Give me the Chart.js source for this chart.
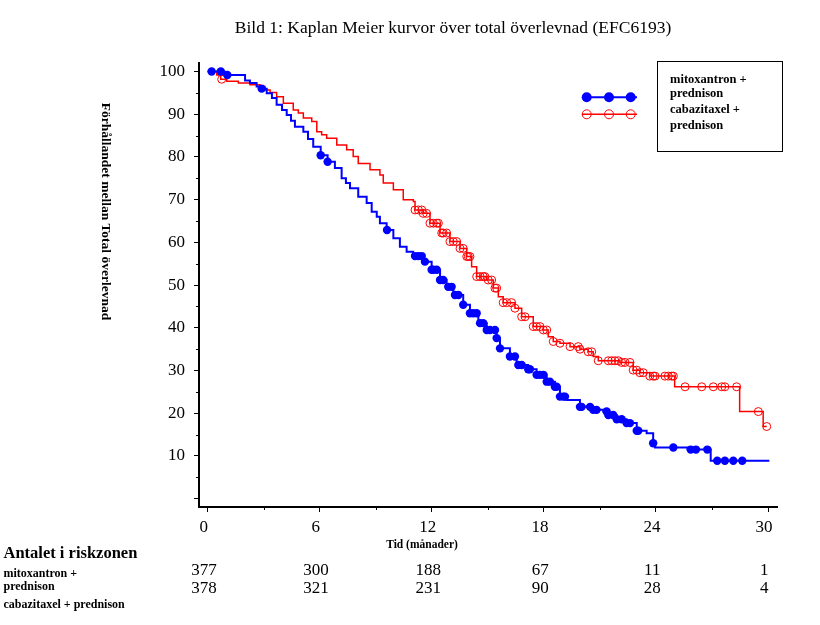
<!DOCTYPE html>
<html>
<head>
<meta charset="utf-8">
<script src="https://cdn.jsdelivr.net/npm/chart.js@4.4.0/dist/chart.umd.min.js"></script>
<style>
html,body{margin:0;padding:0;background:#fff;}
#wrap{width:820px;height:625px;position:relative;}
</style>
</head>
<body>
<div id="wrap"><canvas id="c" width="820" height="625"></canvas></div>
<script>
// ---------- texts ----------
const titleText = 'Bild 1: Kaplan Meier kurvor över total överlevnad (EFC6193)';
const yTitleText = 'Förhållandet mellan Total överlevnad';
const xTitleText = 'Tid (månader)';
const legendLines = ['mitoxantron +', 'prednison', 'cabazitaxel +', 'prednison'];
const riskTitle = 'Antalet i riskzonen';
const riskRowLabels = ['mitoxantron +', 'prednison', 'cabazitaxel + prednison'];

// ---------- ticks ----------
const xTicks = [0, 6, 12, 18, 24, 30];
const xMinorTicks = [3, 9, 15, 21, 27];
const yTicks = [0, 10, 20, 30, 40, 50, 60, 70, 80, 90, 100];
const yMinorTicks = [5, 15, 25, 35, 45, 55, 65, 75, 85, 95];

// ---------- numbers at risk ----------
const riskMito = [377, 300, 188, 67, 11, 1];
const riskCaba = [378, 321, 231, 90, 28, 4];

// ---------- mitoxantron + prednison (KM steps) ----------
const mitoTime = [0, 0.9, 2.0, 2.26, 2.62, 2.89, 3.16, 3.44, 3.69, 3.98, 4.23, 4.46, 4.67, 5.12, 5.37, 5.65,
  6.05, 6.42, 6.81, 7.17, 7.40, 7.62, 8.06, 8.51, 8.78, 9.05, 9.22, 9.58, 9.94, 10.29, 10.65, 11.0, 11.1,
  11.54, 11.99, 12.44, 12.79, 13.15, 13.68, 14.04, 14.49, 14.94, 15.47, 15.65, 16.18, 16.54, 17.16, 17.61,
  18.15, 18.59, 18.86, 19.22, 19.93, 20.56, 21.18, 21.45, 21.9, 22.43, 22.97, 23.5, 23.85, 23.95, 25.7,
  26.93, 30.07];
const mitoSurv = [100, 99.2, 97.9, 97.3, 96.5, 96.0, 94.9, 93.8, 92.2, 91.0, 89.8, 88.5, 87.1, 85.9, 84.2, 82.4,
  80.4, 78.9, 77.4, 75.0, 73.9, 72.7, 70.7, 69.2, 67.2, 66.0, 64.5, 62.9, 61.0, 59.0, 57.8, 57.1, 56.8,
  55.5, 53.6, 51.2, 49.6, 47.7, 45.4, 43.4, 41.1, 39.5, 37.6, 35.2, 33.3, 31.3, 30.3, 29.0,
  27.4, 26.2, 23.9, 23.1, 21.5, 20.8, 20.4, 19.6, 18.6, 17.7, 15.9, 15.3, 13.0, 12.0, 11.5,
  8.9, 8.9];
const mitoCensor = [0.21, 0.70, 1.05, 2.89, 6.05, 6.42, 9.6, 11.1, 11.28, 11.46, 11.63, 11.99, 12.08, 12.26,
  12.44, 12.61, 12.88, 13.06, 13.24, 13.42, 13.68, 14.04, 14.22, 14.40, 14.58, 14.75, 14.94, 15.11, 15.38,
  15.47, 15.65, 16.18, 16.45, 16.63, 16.81, 17.16, 17.25, 17.61, 17.79, 17.97, 18.15, 18.32, 18.59, 18.68,
  18.86, 19.04, 19.13, 19.93, 20.02, 20.47, 20.64, 20.82, 21.36, 21.45, 21.71, 21.90, 22.16, 22.43, 22.61,
  22.97, 23.05, 23.85, 24.93, 25.86, 26.14, 26.75, 27.28, 27.69, 28.14, 28.62];

// ---------- cabazitaxel + prednison (KM steps) ----------
const cabaTime = [0, 0.48, 0.7, 1.02, 1.64, 2.26, 2.8, 3.07, 3.34, 3.69, 4.05, 4.58, 4.85, 5.12, 5.57, 5.84,
  6.1, 6.37, 6.91, 7.44, 7.79, 8.06, 8.69, 9.22, 9.4, 9.94, 10.47, 11.01, 11.1, 11.54, 11.9, 12.44, 12.97,
  13.51, 13.87, 14.13, 14.4, 14.94, 15.29, 15.56, 15.82, 16.45, 16.81, 17.43, 17.97, 18.23, 18.5, 18.86,
  19.4, 19.93, 20.37, 20.64, 20.91, 22.07, 22.78, 23.14, 23.67, 25.0, 28.48, 29.74, 29.93];
const cabaSurv = [100, 99.2, 98.2, 97.7, 97.3, 96.9, 96.5, 95.7, 95.1, 94.1, 92.6, 91.0, 90.3, 89.1, 88.3, 85.9,
  85.2, 84.4, 82.8, 81.7, 80.1, 78.5, 77.0, 75.8, 73.9, 72.3, 70.0, 69.6, 67.6, 66.8, 64.5, 62.2, 60.2,
  58.6, 56.7, 54.3, 52.0, 51.2, 49.3, 47.3, 45.9, 44.6, 42.6, 40.3, 39.5, 37.9, 36.8, 36.4,
  35.6, 35.0, 34.4, 33.3, 32.3, 31.9, 30.1, 29.5, 28.7, 26.2, 20.4, 16.9, 16.9];
const cabaCensor = [0.75, 11.10, 11.28, 11.46, 11.54, 11.72, 11.90, 12.08, 12.26, 12.35, 12.53, 12.61, 12.79,
  12.97, 13.15, 13.33, 13.51, 13.68, 13.87, 13.95, 14.04, 14.40, 14.58, 14.75, 14.84, 15.02, 15.20, 15.38,
  15.47, 15.82, 16.01, 16.27, 16.45, 16.81, 16.99, 17.43, 17.61, 17.79, 17.97, 18.15, 18.50, 18.86, 19.40,
  19.84, 19.93, 20.37, 20.56, 20.91, 21.45, 21.63, 21.80, 21.98, 22.16, 22.34, 22.61, 22.78, 22.97, 23.14,
  23.32, 23.67, 23.85, 23.95, 24.48, 24.66, 24.84, 24.93, 25.56, 26.45, 27.07, 27.52, 27.69, 28.32, 29.48, 29.93];

// ---------- helpers ----------
const SERIF = '"Liberation Serif", "Times New Roman", serif';
const BLUE = '#0000ff';
const RED = '#ff0000';

function stepAt(times, surv, t) {
  let s = surv[0];
  for (let i = 0; i < times.length; i++) {
    if (times[i] <= t) s = surv[i]; else break;
  }
  return s;
}
function toPoints(times, surv) {
  return times.map((t, i) => ({ x: t, y: surv[i] }));
}
function censorPoints(cens, times, surv) {
  return cens.map(t => ({ x: t, y: stepAt(times, surv, t) }));
}

// ---------- extra drawing ----------
const decorPlugin = {
  id: 'decor',
  afterDraw(chart) {
    const ctx = chart.ctx;
    const xs = chart.scales.x, ys = chart.scales.y;
    const area = chart.chartArea;
    ctx.save();

    // minor ticks
    ctx.strokeStyle = '#000';
    ctx.lineWidth = 1;
    ctx.beginPath();
    xMinorTicks.forEach(v => {
      const px = Math.round(xs.getPixelForValue(v)) + 0.5;
      ctx.moveTo(px, area.bottom);
      ctx.lineTo(px, area.bottom + 3);
    });
    yMinorTicks.forEach(v => {
      const py = Math.round(ys.getPixelForValue(v)) + 0.5;
      ctx.moveTo(area.left, py);
      ctx.lineTo(area.left - 3, py);
    });
    ctx.stroke();

    ctx.fillStyle = '#000';
    // title
    ctx.font = '17.5px ' + SERIF;
    ctx.textAlign = 'center';
    ctx.textBaseline = 'alphabetic';
    ctx.fillText(titleText, 453, 33);

    // y title (rotated, reading downward)
    ctx.save();
    ctx.translate(105, 211.5);
    ctx.rotate(Math.PI / 2);
    ctx.font = 'bold 13.5px ' + SERIF;
    ctx.textAlign = 'center';
    ctx.textBaseline = 'middle';
    ctx.fillText(yTitleText, 0, 0);
    ctx.restore();

    // x title
    ctx.font = 'bold 11.5px ' + SERIF;
    ctx.textAlign = 'center';
    ctx.fillText(xTitleText, 422, 548);

    // legend box
    ctx.lineWidth = 1;
    ctx.strokeStyle = '#000';
    ctx.strokeRect(657.5, 61.5, 125, 90);
    ctx.font = 'bold 12.5px ' + SERIF;
    ctx.textAlign = 'left';
    const lb = [82.5, 97, 113, 129];
    legendLines.forEach((s, i) => ctx.fillText(s, 670, lb[i]));

    // legend samples
    const ds = chart.data.datasets;
    const sx = [586.7, 609, 630.7];
    // blue
    ctx.strokeStyle = ds[0].borderColor;
    ctx.lineWidth = ds[0].borderWidth;
    ctx.beginPath(); ctx.moveTo(582, 97.3); ctx.lineTo(637, 97.3); ctx.stroke();
    ctx.fillStyle = ds[1].backgroundColor;
    sx.forEach(x => { ctx.beginPath(); ctx.arc(x, 97.3, 5, 0, Math.PI * 2); ctx.fill(); });
    // red
    ctx.strokeStyle = ds[2].borderColor;
    ctx.lineWidth = ds[2].borderWidth;
    ctx.beginPath(); ctx.moveTo(582, 114.3); ctx.lineTo(637, 114.3); ctx.stroke();
    ctx.lineWidth = 1;
    ctx.strokeStyle = ds[3].borderColor;
    sx.forEach(x => { ctx.beginPath(); ctx.arc(x, 114.3, 4.5, 0, Math.PI * 2); ctx.stroke(); });

    // risk table
    ctx.fillStyle = '#000';
    ctx.textAlign = 'left';
    ctx.font = 'bold 16.5px ' + SERIF;
    ctx.fillText(riskTitle, 3.5, 558);
    ctx.font = 'bold 12px ' + SERIF;
    const rb = [576.7, 589.5, 607.5];
    riskRowLabels.forEach((s, i) => ctx.fillText(s, 3.5, rb[i]));
    ctx.font = '17px ' + SERIF;
    ctx.textAlign = 'center';
    xTicks.forEach((t, i) => {
      const px = xs.getPixelForValue(t) - 3.7;
      ctx.fillText(String(riskMito[i]), px, 575);
      ctx.fillText(String(riskCaba[i]), px, 592.5);
    });

    ctx.restore();
  }
};

const tickFont = { family: SERIF, size: 17 };

new Chart(document.getElementById('c'), {
  type: 'scatter',
  data: {
    datasets: [
      {
        label: 'mitoxantron + prednison',
        data: toPoints(mitoTime, mitoSurv),
        showLine: true, stepped: true,
        borderColor: BLUE, borderWidth: 2,
        pointRadius: 0, clip: false, order: 2
      },
      {
        label: 'mitoxantron + prednison (censurerad)',
        data: censorPoints(mitoCensor, mitoTime, mitoSurv),
        showLine: false, pointStyle: 'circle', pointRadius: 4.2,
        backgroundColor: BLUE, borderColor: BLUE, borderWidth: 0,
        clip: false, order: 1
      },
      {
        label: 'cabazitaxel + prednison',
        data: toPoints(cabaTime, cabaSurv),
        showLine: true, stepped: true,
        borderColor: RED, borderWidth: 1.5,
        pointRadius: 0, clip: false, order: 4
      },
      {
        label: 'cabazitaxel + prednison (censurerad)',
        data: censorPoints(cabaCensor, cabaTime, cabaSurv),
        showLine: false, pointStyle: 'circle', pointRadius: 4,
        backgroundColor: 'rgba(0,0,0,0)', borderColor: RED, borderWidth: 1,
        clip: false, order: 3
      }
    ]
  },
  options: {
    responsive: false,
    animation: false,
    devicePixelRatio: 1,
    layout: { padding: { left: 0, top: 63, right: 43, bottom: 88 } },
    plugins: {
      legend: { display: false },
      title: { display: false },
      tooltip: { enabled: false }
    },
    scales: {
      x: {
        type: 'linear',
        min: -0.466, max: 30.48,
        afterBuildTicks: s => { s.ticks = xTicks.map(v => ({ value: v })); },
        afterFit: s => { s.height = 30; },
        grid: { display: true, drawOnChartArea: false, drawTicks: true, tickLength: 5, tickColor: '#000', tickWidth: 1 },
        border: { display: true, color: '#000', width: 2 },
        ticks: { font: tickFont, color: '#000', padding: 5, labelOffset: -4, maxRotation: 0, autoSkip: false }
      },
      y: {
        type: 'linear',
        min: -1.94, max: 102.0,
        afterBuildTicks: s => { s.ticks = yTicks.map(v => ({ value: v })); },
        afterFit: s => { s.width = 199; },
        grid: { display: true, drawOnChartArea: false, drawTicks: true, tickLength: 5, tickColor: '#000', tickWidth: 1 },
        border: { display: true, color: '#000', width: 2 },
        ticks: { font: tickFont, color: '#000', padding: 9, autoSkip: false,
          callback: v => (v === 0 ? '' : String(v)) }
      }
    }
  },
  plugins: [decorPlugin]
});
</script>
</body>
</html>
